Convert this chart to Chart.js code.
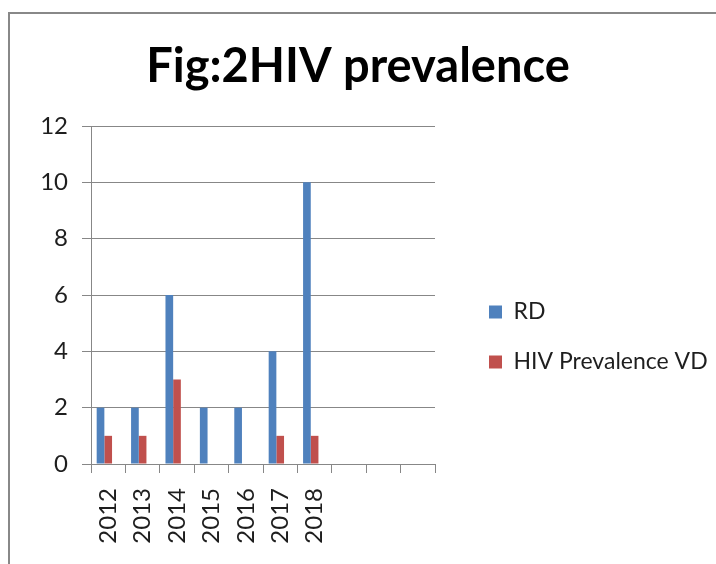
<!DOCTYPE html>
<html>
<head>
<meta charset="utf-8">
<script src="https://cdn.jsdelivr.net/npm/chart.js@4.4.0/dist/chart.umd.min.js"></script>
<style>
    html, body { margin: 0; padding: 0; background: #fff; overflow: hidden; }
    #frame { position: absolute; left: 8px; top: 12px; width: 800px; height: 700px; border: 2px solid #888; }
    #wrap { position: absolute; left: 0; top: 0; width: 716px; height: 564px; }
</style>
</head>
<body>
<div id="frame"></div>
<div id="wrap"><canvas id="barChart"></canvas></div>
<script>
const years = ['2012', '2013', '2014', '2015', '2016', '2017', '2018', '', '', ''];
const rdValues = [2, 2, 6, 2, 2, 4, 10];
const vdValues = [1, 1, 3, 0, 0, 1, 1];
const emptyValues = [];

const gray = '#878787';
const textColor = '#1e1e1e';

// legend box gets a fixed width so the chart area ends where it does in the picture
const legendWidthFix = {
    id: 'legendWidthFix',
    beforeInit(chart) {
        if (!chart.legend) return;
        const fit = chart.legend.fit;
        chart.legend.fit = function () {
            fit.call(this);
            this.width = 254;
        };
    }
};

const data = {
    labels: years,
    datasets: [
        {
            label: 'RD',
            backgroundColor: '#4f81bd',
            data: rdValues
        },
        {
            label: 'HIV Prevalence VD',
            backgroundColor: '#c0504d',
            data: vdValues
        },
        {
            // empty third series, keeps the bars off-centre like the excel original
            label: '',
            backgroundColor: '#9bbb59',
            data: emptyValues
        }
    ]
};

new Chart(document.getElementById('barChart'), {
    type: 'bar',
    data: data,
    plugins: [legendWidthFix],
    options: {
        responsive: true,
        maintainAspectRatio: false,
        animation: false,
        layout: {padding: 0},
        datasets: {
            bar: {categoryPercentage: 0.67, barPercentage: 1, borderWidth: 0}
        },
        plugins: {
            tooltip: {enabled: false},
            title: {
                display: true,
                text: 'Fig:2HIV prevalence',
                color: '#000',
                font: {family: 'Lato', size: 47, weight: 'bold'},
                padding: {top: 39, bottom: 30.6}
            },
            legend: {
                position: 'right',
                // blank legend title only pushes the items down
                title: {
                    display: true,
                    text: ' ',
                    font: {size: 10},
                    padding: {top: 0, bottom: 98}
                },
                labels: {
                    boxWidth: 13,
                    boxHeight: 13,
                    padding: 27,
                    color: textColor,
                    font: {family: 'Lato', size: 23},
                    filter: item => item.text !== ''
                }
            }
        },
        scales: {
            x: {
                grid: {display: true, offset: true, drawOnChartArea: false, tickLength: 9, color: gray},
                border: {display: true, color: gray},
                ticks: {
                    color: textColor,
                    font: {family: 'Lato', size: 24},
                    minRotation: 90,
                    maxRotation: 90,
                    padding: 15,
                    autoSkip: false
                },
                afterFit: s => { s.height = 100; }
            },
            y: {
                min: 0,
                max: 12,
                grid: {color: gray, tickLength: 9},
                border: {display: true, color: gray},
                ticks: {
                    stepSize: 2,
                    color: textColor,
                    font: {family: 'Lato', size: 24},
                    padding: 14
                },
                afterFit: s => { s.width = 91; }
            },
            gap: {
                type: 'linear',
                position: 'right',
                grid: {display: false},
                border: {display: false},
                ticks: {display: false},
                afterFit: s => { s.width = 27; }
            }
        }
    }
});
</script>
</body>
</html>
